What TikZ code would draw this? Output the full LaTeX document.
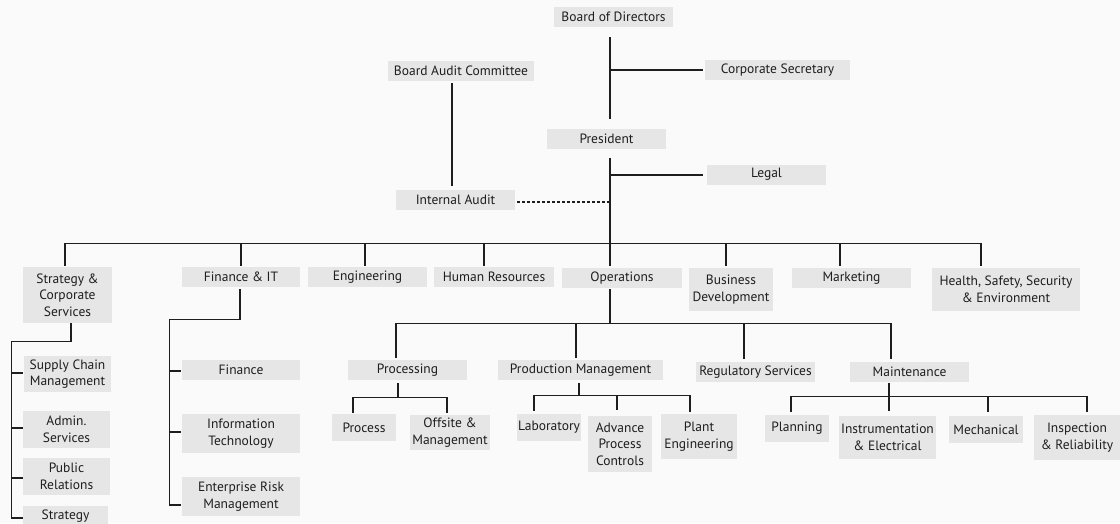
\documentclass[tikz,border=0pt]{standalone}
\usepackage{fontspec}
\setmainfont{PT Sans}
\usetikzlibrary{calc}
\definecolor{bgcol}{HTML}{FAFAFA}
\definecolor{boxcol}{HTML}{E6E6E6}
\definecolor{inkcol}{HTML}{1E1E1E}
\newcommand\orgbox[6]{\node[orgnode,minimum width=#4pt,minimum height=#5pt] (#1) at (#2,#3) {#6};}
\begin{document}
\begin{tikzpicture}[x=1pt,y=-1pt,
  orgnode/.style={fill=boxcol,inner sep=0pt,align=center,text=inkcol,
    font=\fontsize{13.5}{16.5}\selectfont},
  conn/.style={draw=inkcol,line width=1.1pt},
  dotconn/.style={conn,dash pattern=on 3pt off 2pt}]
\fill[bgcol] (0,0) rectangle (1120,523);
\useasboundingbox (0,0) rectangle (1120,523);
\begin{scope}
\clip (0,0) rectangle (1120,523);
% top levels
\orgbox{bod}{613.5}{17}{119}{20}{Board of Directors}
\orgbox{corp}{777.5}{70}{145}{20}{Corporate Secretary}
\orgbox{bac}{461}{71}{146}{20}{Board Audit Committee}
\orgbox{pres}{606.5}{139}{119}{20}{President}
\orgbox{legal}{766.5}{174.5}{119}{20}{Legal}
\orgbox{ia}{455.5}{200}{119}{20}{Internal Audit}
% divisions
\orgbox{scs}{67.5}{295}{89}{56}{Strategy \&\\Corporate\\Services}
\orgbox{fit}{241}{277}{118}{20}{Finance \& IT}
\orgbox{eng}{367.5}{277}{119}{20}{Engineering}
\orgbox{hr}{494}{277}{120}{20}{Human Resources}
\orgbox{ops}{622}{278}{120}{20}{Operations}
\orgbox{bd}{731}{289.5}{84}{43}{Business\\Development}
\orgbox{mkt}{851.5}{278}{119}{20}{Marketing}
\orgbox{hsse}{1006}{289.5}{148}{43}{Health, Safety, Security\\\& Environment}
% finance & IT
\orgbox{fin}{241}{370}{118}{20}{Finance}
\orgbox{it}{241}{433.5}{118}{39}{Information\\Technology}
\orgbox{erm}{241}{496.5}{118}{39}{Enterprise Risk\\Management}
% strategy & corporate services
\orgbox{scm}{67.5}{374}{87}{36}{Supply Chain\\Management}
\orgbox{adm}{66.5}{429.5}{87}{37}{Admin.\\Services}
\orgbox{pr}{66.5}{476.5}{87}{37}{Public\\Relations}
\orgbox{strat}{65.5}{516}{85}{20}{Strategy}
% operations
\orgbox{proc}{407.5}{370}{119}{20}{Processing}
\orgbox{pm}{580.5}{370}{165}{20}{Production Management}
\orgbox{reg}{755.5}{372}{119}{20}{Regulatory Services}
\orgbox{mnt}{909.5}{372}{119}{20}{Maintenance}
\orgbox{process}{364}{427.5}{64}{27}{Process}
\orgbox{offsite}{450}{432.5}{80}{35}{Offsite \&\\Management}
\orgbox{lab}{549}{427.5}{64}{27}{Laboratory}
\orgbox{apc}{620}{444}{64}{56}{Advance\\Process\\Controls}
\orgbox{plant}{699}{436.5}{76}{45}{Plant\\Engineering}
\orgbox{plan}{797}{428.5}{64}{27}{Planning}
\orgbox{ie}{887.5}{437.5}{97}{43}{Instrumentation\\\& Electrical}
\orgbox{mech}{986}{429.5}{74}{27}{Mechanical}
\orgbox{insp}{1077}{437.5}{86}{45}{Inspection\\\& Reliability}
% connectors: top
\draw[conn] ($(bod.south)+(-3.5,10)$) -- ($(pres.north)+(3.5,-10)$);
\draw[conn] ($(corp.west)+(-95,0)$) -- ($(corp.west)+(-2,0)$);
\draw[conn] ($(bac.south)+(-9,2)$) -- ($(ia.north)+(-3.5,-4)$);
\draw[conn] ($(pres.south)+(3.5,9)$) -- ($(ops.north)+(-12,-24)$);
\draw[conn] ($(legal.west)+(-97,0.5)$) -- ($(legal.west)+(-4,0.5)$);
\draw[dotconn] ($(ia.east)+(2,2)$) -- ($(ia.east)+(95,2)$);
% division bus
\draw[conn] ($(scs.north)+(-2.5,-1)$) |- ($(hsse.north)+(-25,-24)$) -- ($(hsse.north)+(-25,-2)$);
\draw[conn] ($(fit.north)+(0,-1)$) -- ($(fit.north)+(0,-23)$);
\draw[conn] ($(eng.north)+(-2.5,-1)$) -- ($(eng.north)+(-2.5,-23)$);
\draw[conn] ($(hr.north)+(-10,-1)$) -- ($(hr.north)+(-10,-23)$);
\draw[conn] ($(ops.north)+(-12,-2)$) -- ($(ops.north)+(-12,-24)$);
\draw[conn] ($(bd.north)+(-5,-2)$) -- ($(bd.north)+(-5,-24)$);
\draw[conn] ($(mkt.north)+(-11.5,-2)$) -- ($(mkt.north)+(-11.5,-24)$);
% operations
\draw[conn] ($(ops.south)+(-12,1)$) -- ($(ops.south)+(-12,36)$);
\draw[conn] ($(proc.north)+(-11.5,-2)$) |- ($(mnt.north)+(-18.5,-38)$) -- ($(mnt.north)+(-18.5,-3)$);
\draw[conn] ($(pm.north)+(-4.5,-2)$) -- ($(pm.north)+(-4.5,-36)$);
\draw[conn] ($(reg.north)+(-11.5,-3)$) -- ($(reg.north)+(-11.5,-38)$);
% processing
\draw[conn] ($(proc.south)+(-9.5,3)$) -- ($(proc.south)+(-9.5,18)$);
\draw[conn] ($(process.north)+(-11,-1)$) |- ($(offsite.north)+(-3,-17)$) -- ($(offsite.north)+(-3,-2)$);
% production management
\draw[conn] ($(pm.south)+(-1.5,3)$) -- ($(pm.south)+(-1.5,16)$);
\draw[conn] ($(lab.north)+(-15,-3)$) |- ($(plant.north)+(-9,-18)$) -- ($(plant.north)+(-9,-2)$);
\draw[conn] ($(apc.north)+(-3,-6)$) -- ($(apc.north)+(-3,-20)$);
% maintenance
\draw[conn] ($(mnt.south)+(-20.5,1)$) -- ($(mnt.south)+(-20.5,15)$);
\draw[conn] ($(plan.north)+(-6,-3)$) |- ($(insp.north)+(10,-18)$) -- ($(insp.north)+(10,-3)$);
\draw[conn] ($(ie.north)+(1.5,-5)$) -- ($(ie.north)+(1.5,-19)$);
\draw[conn] ($(mech.north)+(2,-4)$) -- ($(mech.north)+(2,-19)$);
% finance & IT
\draw[conn] ($(fit.south)+(-1,2)$) -- ($(fit.south)+(-1,32)$) -| ($(erm.west)+(-12,8.5)$) -- ($(erm.west)+(-1,8.5)$);
\draw[conn] ($(fin.west)+(-12,1)$) -- ($(fin.west)+(-1,1)$);
\draw[conn] ($(it.west)+(-12,-1.5)$) -- ($(it.west)+(-1,-1.5)$);
% strategy & corporate services
\draw[conn] ($(scs.south)+(3.5,0)$) -- ($(scs.south)+(3.5,18)$) -| ($(strat.west)+(-11,2)$) -- ($(strat.west)+(0,2)$);
\draw[conn] ($(scm.west)+(-12,-1)$) -- ($(scm.west)+(-1,-1)$);
\draw[conn] ($(adm.west)+(-11,-1.5)$) -- ($(adm.west)+(0,-1.5)$);
\draw[conn] ($(pr.west)+(-11,1.5)$) -- ($(pr.west)+(0,1.5)$);
\end{scope}
\end{tikzpicture}
\end{document}
